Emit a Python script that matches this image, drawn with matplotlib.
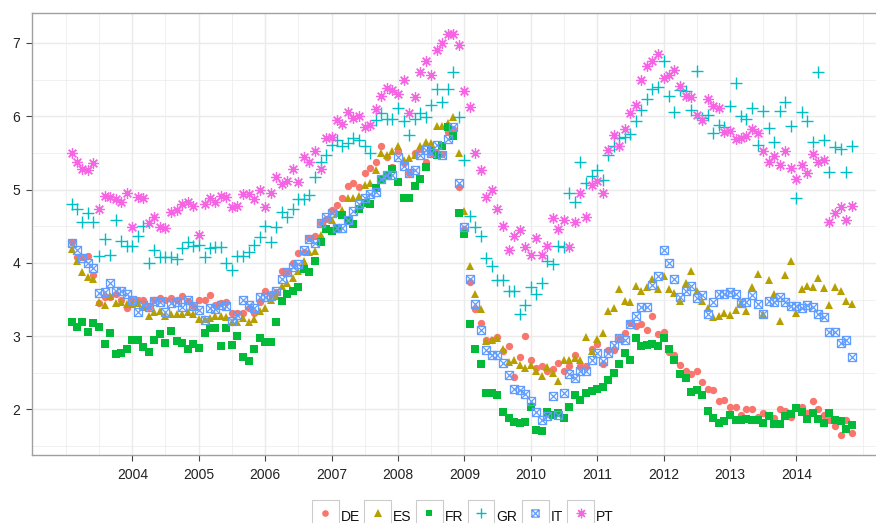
import numpy as np
import pandas as pd
import matplotlib
matplotlib.use("Agg")
import matplotlib.pyplot as plt
import matplotlib.dates as mdates
from matplotlib.path import Path
from matplotlib.patches import Rectangle
from matplotlib.lines import Line2D
from matplotlib.legend_handler import HandlerBase
from matplotlib.ticker import FixedLocator

plt.rcParams['font.family'] = ['Liberation Sans', 'DejaVu Sans']

# ---------------- data ----------------
start_month = '2003-02-01'
n_months = 142
countries = ['DE', 'ES', 'FR', 'GR', 'IT', 'PT']

DE = [4.28, 4.08, 4.08, 4.09, 3.83, 3.45, 3.53, 3.54, 3.58, 3.49, 3.38, 3.49,
      3.50, 3.49, 3.40, 3.50, 3.52, 3.49, 3.52, 3.50, 3.55, 3.48, 3.41, 3.49,
      3.49, 3.56, 3.42, 3.45, 3.47, 3.32, 3.32, 3.32, 3.39, 3.32, 3.47, 3.61,
      3.57, 3.60, 3.89, 3.88, 4.00, 4.13, 4.15, 4.34, 4.37, 4.55, 4.60, 4.72,
      4.79, 4.88, 5.05, 5.09, 5.03, 5.23, 5.29, 5.38, 5.59, 5.44, 5.31, 5.52,
      5.36, 5.23, 5.50, 5.55, 5.38, 5.50, 5.50, 5.49, 5.78, 5.82, 5.04, 4.46,
      3.74, 3.37, 3.18, 2.95, 2.95, 2.99, 2.80, 2.86, 2.44, 2.71, 3.00, 2.68,
      2.56, 2.59, 2.52, 2.55, 2.63, 2.52, 2.59, 2.74, 2.60, 2.59, 2.83, 2.90,
      2.62, 2.81, 2.81, 2.97, 3.05, 3.18, 3.14, 3.17, 3.09, 3.27, 3.03, 3.06,
      2.78, 2.74, 2.61, 2.52, 2.48, 2.53, 2.37, 2.28, 2.26, 2.12, 2.13, 2.03,
      2.03, 1.92, 2.00, 2.00, 1.90, 1.95, 1.93, 1.88, 2.00, 1.98, 1.90, 2.03,
      2.03, 1.95, 2.12, 2.00, 1.92, 1.85, 1.78, 1.65, 1.85, 1.68]

ES = [4.19, 4.03, 3.88, 3.81, 3.78, 3.46, 3.43, 3.55, 3.45, 3.47, 3.44, 3.44,
      3.45, 3.40, 3.28, 3.33, 3.35, 3.27, 3.30, 3.30, 3.30, 3.33, 3.30, 3.24,
      3.23, 3.25, 3.27, 3.28, 3.26, 3.20, 3.20, 3.25, 3.20, 3.23, 3.35, 3.39,
      3.49, 3.55, 3.68, 3.73, 3.79, 3.89, 4.02, 4.15, 4.16, 4.38, 4.47, 4.58,
      4.68, 4.72, 4.88, 4.88, 4.91, 5.06, 5.09, 5.27, 5.50, 5.47, 5.52, 5.59,
      5.41, 5.43, 5.47, 5.59, 5.65, 5.64, 5.87, 5.87, 5.91, 5.99, 5.50, 4.71,
      3.96, 3.58, 3.37, 2.94, 2.95, 2.97, 2.83, 2.65, 2.68, 2.61, 2.56, 2.61,
      2.52, 2.46, 2.58, 2.50, 2.39, 2.68, 2.67, 2.70, 2.68, 2.99, 2.80, 2.96,
      3.05, 3.35, 3.38, 3.65, 3.48, 3.46, 3.68, 3.62, 3.67, 3.78, 3.64, 3.82,
      3.64, 3.59, 3.48, 3.73, 3.89, 3.62, 3.48, 3.38, 3.26, 3.28, 3.31, 3.29,
      3.36, 3.45, 3.35, 3.67, 3.85, 3.30, 3.76, 3.58, 3.21, 3.83, 4.02, 3.32,
      3.64, 3.68, 3.67, 3.79, 3.66, 3.43, 3.67, 3.61, 3.48, 3.44]

FR = [3.20, 3.12, 3.20, 3.06, 3.18, 3.12, 2.89, 3.05, 2.76, 2.77, 2.82, 2.95,
      2.95, 2.85, 2.79, 2.95, 3.03, 2.91, 3.07, 2.94, 2.91, 2.83, 2.89, 2.84,
      3.05, 3.11, 3.11, 2.87, 3.11, 2.88, 3.00, 2.71, 2.66, 2.82, 2.97, 2.92,
      2.92, 3.20, 3.48, 3.58, 3.61, 3.67, 3.91, 3.87, 4.03, 4.29, 4.46, 4.43,
      4.47, 4.65, 4.59, 4.53, 4.74, 4.82, 4.80, 5.02, 5.14, 5.20, 5.28, 5.11,
      4.88, 4.88, 5.05, 5.15, 5.31, 5.52, 5.47, 5.59, 5.85, 5.73, 4.68, 4.40,
      3.17, 2.82, 2.62, 2.22, 2.23, 2.20, 1.96, 1.88, 1.83, 1.82, 1.83, 2.04,
      1.72, 1.70, 1.97, 1.93, 1.95, 1.88, 2.03, 2.20, 2.13, 2.22, 2.25, 2.28,
      2.31, 2.40, 2.50, 2.62, 2.77, 2.68, 2.97, 2.87, 2.88, 2.90, 2.87, 2.97,
      2.82, 2.67, 2.48, 2.43, 2.24, 2.26, 2.20, 1.98, 1.89, 1.82, 1.84, 1.92,
      1.86, 1.86, 1.87, 1.86, 1.85, 1.81, 1.91, 1.80, 1.80, 1.91, 1.94, 2.02,
      1.96, 1.87, 1.95, 1.87, 1.82, 1.95, 1.86, 1.84, 1.73, 1.79]

GR = [4.81, 4.74, 4.56, 4.68, 4.56, 4.09, 4.32, 4.11, 4.59, 4.30, 4.23, 4.23,
      4.36, 4.50, 4.00, 4.18, 4.08, 4.08, 4.08, 4.05, 4.20, 4.28, 4.23, 4.24,
      4.08, 4.20, 4.21, 4.21, 4.00, 3.90, 4.09, 4.09, 4.15, 4.24, 4.35, 4.50,
      4.29, 4.49, 4.70, 4.63, 4.73, 4.87, 4.87, 4.93, 5.17, 5.38, 5.47, 5.61,
      5.68, 5.59, 5.63, 5.70, 5.68, 5.59, 5.50, 5.95, 6.05, 5.96, 5.96, 6.11,
      5.93, 5.75, 5.96, 6.05, 5.99, 6.15, 6.37, 6.20, 6.37, 6.60, 5.99, 5.40,
      4.64, 4.49, 4.36, 4.06, 3.96, 3.77, 3.77, 3.62, 3.62, 3.30, 3.43, 3.67,
      3.58, 3.72, 4.03, 3.99, 4.23, 4.22, 4.95, 4.83, 5.38, 5.09, 5.19, 5.27,
      5.13, 5.47, 5.59, 5.70, 5.72, 5.76, 5.93, 6.08, 6.23, 6.37, 6.40, 6.76,
      6.28, 6.06, 6.36, 6.34, 6.09, 6.62, 5.97, 6.02, 5.77, 5.88, 5.85, 6.14,
      6.45, 6.00, 5.96, 6.11, 5.61, 6.07, 5.84, 5.65, 6.07, 6.19, 5.87, 4.88,
      6.06, 5.93, 5.65, 6.61, 5.67, 5.24, 5.58, 5.56, 5.24, 5.59]

IT = [4.27, 4.18, 4.07, 4.00, 3.93, 3.59, 3.60, 3.73, 3.62, 3.61, 3.58, 3.50,
      3.33, 3.43, 3.40, 3.48, 3.47, 3.33, 3.45, 3.46, 3.40, 3.49, 3.41, 3.36,
      3.22, 3.39, 3.37, 3.43, 3.41, 3.21, 3.29, 3.50, 3.43, 3.39, 3.54, 3.53,
      3.55, 3.62, 3.78, 3.87, 3.95, 3.98, 4.17, 4.32, 4.27, 4.55, 4.62, 4.68,
      4.47, 4.48, 4.59, 4.71, 4.81, 4.89, 4.94, 4.97, 5.14, 5.20, 5.20, 5.44,
      5.32, 5.23, 5.27, 5.47, 5.54, 5.50, 5.61, 5.47, 5.69, 5.85, 5.09, 4.49,
      3.78, 3.44, 3.08, 2.81, 2.74, 2.74, 2.64, 2.47, 2.28, 2.27, 2.21, 2.12,
      1.96, 1.86, 1.91, 2.18, 1.92, 2.22, 2.48, 2.43, 2.52, 2.52, 2.68, 2.77,
      2.66, 2.77, 2.88, 2.97, 2.95, 3.17, 3.28, 3.40, 3.40, 3.70, 3.82, 4.17,
      4.00, 3.78, 3.54, 3.62, 3.68, 3.52, 3.56, 3.30, 3.46, 3.57, 3.57, 3.60,
      3.58, 3.45, 3.47, 3.56, 3.44, 3.30, 3.48, 3.47, 3.53, 3.46, 3.41, 3.41,
      3.38, 3.42, 3.40, 3.30, 3.26, 3.06, 3.06, 2.91, 2.95, 2.72]

PT = [5.50, 5.38, 5.28, 5.27, 5.36, 4.74, 4.91, 4.90, 4.87, 4.83, 4.96, 4.49,
      4.90, 4.88, 4.55, 4.63, 4.49, 4.47, 4.70, 4.72, 4.81, 4.83, 4.77, 4.38,
      4.81, 4.88, 4.83, 4.91, 4.90, 4.76, 4.78, 4.94, 4.94, 4.87, 5.00, 4.76,
      4.95, 5.17, 5.08, 5.12, 5.28, 5.11, 5.44, 5.38, 5.52, 5.28, 5.70, 5.72,
      5.95, 5.90, 6.06, 5.97, 6.00, 5.85, 5.88, 6.10, 6.27, 6.38, 6.36, 6.31,
      6.50, 6.05, 6.26, 6.61, 6.76, 6.56, 6.90, 7.00, 7.12, 7.12, 6.97, 6.34,
      6.12, 5.50, 5.27, 4.90, 5.00, 4.73, 4.50, 4.18, 4.36, 4.45, 4.22, 4.11,
      4.34, 4.11, 4.23, 4.61, 4.46, 4.59, 4.22, 4.56, 4.96, 4.62, 5.06, 5.12,
      4.96, 5.54, 5.75, 5.59, 5.82, 6.04, 6.15, 6.50, 6.69, 6.76, 6.85, 6.52,
      6.56, 6.63, 6.41, 6.28, 6.26, 6.02, 5.95, 6.23, 6.14, 6.11, 5.78, 5.80,
      5.69, 5.70, 5.73, 5.82, 5.77, 5.52, 5.38, 5.46, 5.34, 5.52, 5.30, 5.14,
      5.34, 5.22, 5.48, 5.37, 5.41, 4.56, 4.68, 4.76, 4.59, 4.77]

year_ticks = list(range(2004, 2015))
y_ticks = [2, 3, 4, 5, 6, 7]

series = {'DE': DE, 'ES': ES, 'FR': FR, 'GR': GR, 'IT': IT, 'PT': PT}
dates = pd.date_range(start_month, periods=n_months, freq='MS')

# ---------------- styles ----------------
it_marker = Path([(-1, -1), (1, -1), (1, 1), (-1, 1), (-1, -1),
                  (-1, -1), (1, 1), (-1, 1), (1, -1)],
                 [Path.MOVETO, Path.LINETO, Path.LINETO, Path.LINETO, Path.CLOSEPOLY,
                  Path.MOVETO, Path.LINETO, Path.MOVETO, Path.LINETO])

styles = {
    'DE': dict(marker='o', markersize=5.3, markeredgewidth=0, color='#F8766D'),
    'ES': dict(marker='^', markersize=6.4, markeredgewidth=0, color='#B79F00'),
    'FR': dict(marker='s', markersize=5.3, markeredgewidth=0, color='#00BA38'),
    'GR': dict(marker='+', markersize=8.0, markeredgewidth=1.0, color='#00BFC4'),
    'IT': dict(marker=it_marker, markersize=5.8, markeredgewidth=0.9,
               color='#619CFF', markerfacecolor='none'),
    'PT': dict(marker=(8, 2, 0), markersize=7.6, markeredgewidth=0.9, color='#F564E3'),
}

W, H = 876, 523
fig = plt.figure(figsize=(W / 100, H / 100), dpi=100)
left_px, right_px, top_px, bottom_px = 32, 889, 13, 455
ax = fig.add_axes([left_px / W, 1 - bottom_px / H,
                   (right_px - left_px) / W, (bottom_px - top_px) / H])

for name in countries:
    ax.plot(dates, series[name], linestyle='none', label=name, **styles[name])

ax.set_xlim(pd.Timestamp('2002-06-28'), pd.Timestamp('2015-05-25'))
ax.set_ylim(1.379, 7.409)

ax.xaxis.set_major_locator(FixedLocator([mdates.date2num(pd.Timestamp(f'{y}-01-01')) for y in year_ticks]))
ax.xaxis.set_major_formatter(mdates.DateFormatter('%Y'))
minor_x = [mdates.date2num(pd.Timestamp('2003-01-01'))] + \
          [mdates.date2num(pd.Timestamp(f'{y}-07-01')) for y in range(2003, 2015)] + \
          [mdates.date2num(pd.Timestamp('2015-01-01'))]
ax.xaxis.set_minor_locator(FixedLocator(minor_x))
ax.set_yticks(y_ticks)
ax.yaxis.set_minor_locator(FixedLocator([1.5, 2.5, 3.5, 4.5, 5.5, 6.5]))

ax.set_axisbelow(True)
ax.grid(which='major', color='#ebebeb', linewidth=1.07)
ax.grid(which='minor', color='#ebebeb', linewidth=0.53)

for s in ['left', 'top', 'bottom', 'right']:
    ax.spines[s].set_color('#a0a0a0')
    ax.spines[s].set_linewidth(1.0)

ax.tick_params(which='major', direction='out', length=4.3, width=0.8,
               color='#444444', labelcolor='#222222', labelsize=10, pad=4)
ax.tick_params(which='minor', length=0)
ax.tick_params(axis='x', pad=5)


class BoxedKey(HandlerBase):
    def create_artists(self, legend, orig_handle, xdescent, ydescent,
                       width, height, fontsize, trans):
        side = width
        rect = Rectangle((-xdescent, -ydescent), side, side, facecolor='white',
                         edgecolor='#cccccc', linewidth=0.8, transform=trans)
        m = Line2D([-xdescent + side / 2], [-ydescent + side / 2],
                   linestyle='none',
                   marker=orig_handle.get_marker(),
                   markersize=orig_handle.get_markersize() * 0.9,
                   markeredgewidth=orig_handle.get_markeredgewidth(),
                   markerfacecolor=orig_handle.get_markerfacecolor(),
                   markeredgecolor=orig_handle.get_markeredgecolor(),
                   transform=trans)
        return [rect, m]


handles, labels = ax.get_legend_handles_labels()
leg = fig.legend(handles, labels, loc='upper left',
                 bbox_to_anchor=(311.7 / W, 1 - 506 / H), ncol=6, frameon=False,
                 fontsize=10, handlelength=1.94, handleheight=1.94,
                 handletextpad=0.15, columnspacing=0.3, borderpad=0,
                 borderaxespad=0,
                 handler_map={Line2D: BoxedKey()})
for t in leg.get_texts():
    t.set_color('#111111')

fig.savefig('out.png', dpi=100)
